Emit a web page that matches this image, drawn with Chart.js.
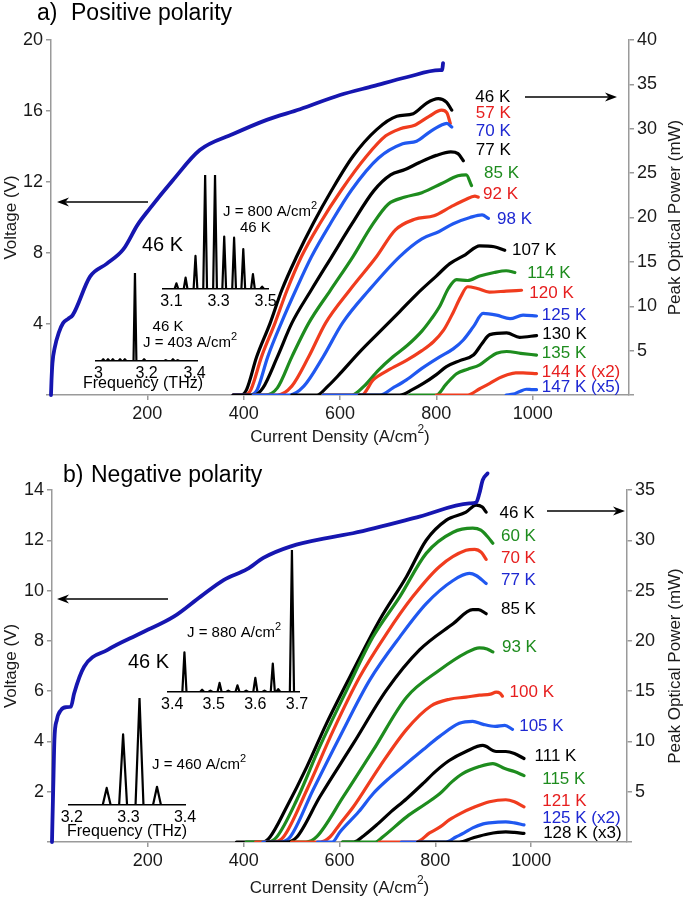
<!DOCTYPE html>
<html><head><meta charset="utf-8">
<script src="https://cdn.jsdelivr.net/npm/chart.js@4.4.0/dist/chart.umd.min.js"></script>
<style>
body{margin:0;background:#fff;width:685px;height:901px;position:relative;overflow:hidden}
canvas{position:absolute}
</style></head><body>
<canvas id="ca" width="685" height="450" style="left:0;top:0"></canvas>
<canvas id="cb" width="685" height="451" style="left:0;top:450px"></canvas>
<canvas id="ia1"></canvas><canvas id="ia2"></canvas>
<canvas id="ib1"></canvas><canvas id="ib2"></canvas>
<script>
// ---- panel a : positive polarity ----
const voltAJ=[0,1,3,8,16,25,36,45,81,116,150,180,205,253,309,378,448,517,600,669,738,807,812,814]
const voltAV=[0,0.8,1.8,2.7,3.5,4.05,4.3,4.5,6.67,7.4,8.2,9.6,10.5,12.1,13.8,14.7,15.5,16.1,16.9,17.4,17.9,18.3,18.3,18.7]
const tempsA=['46 K','57 K','70 K','77 K','85 K','92 K','98 K','107 K','114 K','120 K','125 K','130 K','135 K','144 K (x2)','147 K (x5)']
const a46=[[378,0],[395,0],[406,0.6],[427,4.3],[455,8.1],[479,11.8],[510,15.6],[544,19.3],[583,23.1],[627,26.9],[676,29.9],[718,31.4],[752,31.7],[780,32.9],[804,33.4],[821,33.0],[832,32.1]]
const a57=[[378,0],[402,0],[415,0.6],[437,4.3],[465,8.1],[490,11.8],[520,15.6],[558,19.3],[603,23.1],[655,26.9],[695,29.2],[725,30.0],[755,30.4],[785,31.4],[811,32.1],[822,31.8],[829,30.6]]
const a70=[[378,0],[413,0],[428,0.6],[450,4.3],[478,8.1],[508,11.8],[541,15.6],[580,19.3],[624,23.1],[680,26.7],[730,28.3],[759,28.6],[785,29.6],[810,30.4],[822,30.6],[832,30.2]]
const a77=[[378,0],[422,0],[440,0.8],[470,4.3],[500,8.1],[540,11.8],[583,15.6],[625,19.3],[670,23.0],[705,24.8],[735,25.4],[765,26.2],[800,27.0],[830,27.4],[845,27.2],[856,26.4]]
const a85=[[420,0],[445,0],[470,0.8],[500,4.3],[535,8.1],[580,11.8],[627,15.6],[665,19.0],[700,21.5],[735,22.3],[770,22.8],[810,23.8],[845,24.7],[862,24.8],[873,23.6]]
const a92=[[420,0],[470,0],[500,1.0],[535,4.3],[570,8.1],[620,11.8],[676,15.6],[715,18.6],[755,19.8],[795,20.2],[830,21.2],[860,22.0],[880,22.4],[887,22.3]]
const a98=[[420,0],[495,0],[525,1.0],[565,4.3],[605,8.1],[660,11.8],[724,15.6],[770,17.6],[805,18.4],[835,19.3],[870,20.0],[895,20.3],[908,19.9]]
const a107=[[500,0],[552,0],[575,1.0],[600,2.4],[640,4.8],[680,7.0],[724,9.4],[760,11.4],[800,13.4],[828,14.8],[860,15.8],[890,16.8],[920,16.7],[942,16.3]]
const a114=[[565,0],[625,0],[650,1.0],[680,2.8],[710,4.3],[740,5.6],[770,7.2],[790,8.6],[807,10.0],[825,12.0],[842,13.0],[865,12.9],[890,13.4],[920,13.8],[945,14.0],[963,13.8]]
const a120=[[565,0],[645,0],[669,1.7],[700,2.8],[738,3.9],[770,5.0],[794,6.0],[815,7.3],[835,9.3],[850,11.0],[865,12.2],[885,12.0],[910,11.6],[945,11.7],[977,11.8]]
const a125=[[565,0],[683,0],[710,0.8],[738,1.7],[770,3.0],[807,4.3],[835,5.2],[856,6.2],[877,7.7],[897,9.2],[925,9.0],[953,8.6],[980,9.0],[1008,8.9]]
const a130=[[640,0],[724,0],[750,0.6],[773,1.3],[800,2.3],[821,3.2],[850,3.9],[877,4.5],[895,5.8],[911,6.8],[946,7.0],[973,6.5],[1008,6.7]]
const a135=[[745,0],[800,0],[820,1.2],[842,2.4],[865,2.9],[890,3.4],[910,4.2],[925,4.7],[946,4.9],[975,4.7],[1008,4.5]]
const a144=[[800,0],[865,0],[890,0.7],[911,1.3],[930,1.9],[946,2.25],[965,2.5],[980,2.5],[1008,2.4]]
const a147=[[945,0],[960,0.1],[973,0.4],[987,0.65],[1000,0.6],[1008,0.6]]
// label anchor (current density, power) for each temperature
const labAJ=[881,882,882,882,899,897,926,957,989,993,1019,1020,1019,1019,1019]
const labAP=[33.5,31.7,29.7,27.6,25.0,22.6,19.8,16.3,13.7,11.5,9.0,6.8,4.7,2.6,0.9]

// ---- panel b : negative polarity ----
const voltBJ=[0,1,3,5,10,19,29,39.5,46,67,116,185,254,310,358,407,441,497,587,628,767,871,885,892,899,909]
const voltBV=[0,0.9,2.5,4.06,4.85,5.25,5.36,5.38,5.9,6.97,7.64,8.3,8.96,9.76,10.42,10.85,11.3,11.75,12.14,12.28,12.94,13.47,13.5,13.87,14.4,14.66]
const tempsB=['46 K','60 K','70 K','77 K','85 K','93 K','100 K','105 K','111 K','115 K','121 K','125 K (x2)','128 K (x3)']
const b46=[[385,0],[440,0],[455,0.5],[490,3.5],[532,7.5],[573,11.8],[629,17.1],[684,22.1],[740,26.4],[781,30.0],[823,32.0],[864,32.8],[885,33.5],[898,33.3],[906,32.8]]
const b60=[[405,0],[450,0],[469,0.5],[511,4.2],[559,9.5],[615,15.1],[670,20.4],[726,24.4],[781,28.7],[837,30.8],[878,31.2],[895,31.0],[910,30.3],[920,29.7]]
const b70=[[425,0],[462,0],[483,0.5],[532,5.2],[587,11.1],[642,16.4],[698,20.7],[753,24.4],[809,27.4],[864,29.0],[882,29.1],[896,28.8],[906,28.1]]
const b77=[[440,0],[475,0],[497,0.5],[545,5.2],[601,10.5],[663,16.1],[726,20.4],[781,23.7],[837,26.0],[871,26.7],[885,26.5],[906,25.7]]
const b85=[[449,0],[490,0],[511,0.5],[559,4.5],[629,9.8],[698,15.1],[767,19.1],[837,21.7],[878,23.1],[890,23.1],[906,22.7]]
const b93=[[500,0],[530,0],[552,0.5],[608,4.5],[670,9.1],[740,14.4],[809,17.1],[864,18.8],[892,19.3],[908,19.2],[920,18.9]]
const b100=[[500,0],[560,0],[580,0.5],[601,1.8],[629,3.5],[684,7.5],[740,11.2],[790,13.5],[830,14.2],[864,14.4],[892,14.6],[915,14.7],[927,14.9],[935,14.8],[940,14.5]]
const b105=[[554,0],[585,0],[601,1.0],[640,3.0],[670,4.8],[705,6.4],[740,7.8],[775,9.2],[809,10.5],[850,11.8],[878,12.0],[900,11.7],[925,11.5],[945,11.6],[961,11.2]]
const b111=[[606,0],[630,0],[650,0.6],[680,1.8],[705,2.9],[740,4.3],[774,5.8],[800,7.0],[829,8.1],[864,9.0],[899,9.6],[927,9.0],[947,9.0],[965,8.8],[985,8.3]]
const b115=[[606,0],[675,0],[690,0.5],[740,2.5],[780,3.8],[809,4.8],[835,6.0],[857,6.8],[892,7.5],[920,7.8],[945,7.3],[965,7.0],[985,6.6]]
const b121=[[683,0],[760,0],[788,0.9],[810,1.5],[829,2.2],[855,2.9],[878,3.4],[913,4.0],[947,4.2],[965,4.0],[985,3.5]]
const b125=[[729,0],[822,0],[843,0.5],[860,0.9],[878,1.4],[900,1.8],[913,1.9],[947,2.0],[965,1.9],[985,1.7]]
const b128=[[763,0],[850,0],[878,0.4],[910,0.8],[947,1.0],[965,0.95],[985,0.85]]
const labBJ=[934,937,937,937,937,939,955,975,1007,1023,1023,1023,1025]
const labBP=[32.7,30.4,28.2,26.0,23.1,19.4,14.9,11.5,8.5,6.2,4.0,2.4,0.9]

// ---- spectra insets (frequency THz, normalised amplitude) ----
const specA800F=[3.121,3.160,3.202,3.243,3.285,3.324,3.366,3.405,3.446,3.485]
const specA800A=[0.05,0.10,0.29,1.0,1.0,0.46,0.45,0.35,0.13,0.02]
const specA403F=[3.02,3.04,3.06,3.09,3.11,3.152,3.19,3.28,3.31,3.33]
const specA403A=[0.02,0.02,0.02,0.02,0.02,1.0,0.02,0.01,0.02,0.01]
const specB880F=[3.4295,3.472,3.492,3.514,3.535,3.557,3.578,3.600,3.622,3.642,3.655,3.688]
const specB880A=[0.28,0.016,0.01,0.064,0.01,0.047,0.01,0.099,0.01,0.2,0.02,1.0]
const specB460F=[3.2616,3.2906,3.3196,3.3505]
const specB460A=[0.16,0.66,1.0,0.17]

const FONT='"Liberation Sans", Arial, sans-serif'
Chart.defaults.font.family=FONT
Chart.defaults.color='#1a1a1a'

const BK='#000000', RD='#f03c1e', BL='#2058f0', GR='#1e8c1e', VCOL='#1616b0'
const LBK='#000000', LRD='#e61e1e', LBL='#1e28d2', LGR='#1e8c1e'
const colsA=[BK,RD,BL,BK,GR,RD,BL,BK,GR,RD,BL,BK,GR,RD,BL]
const labColA=[LBK,LRD,LBL,LBK,LGR,LRD,LBL,LBK,LGR,LRD,LBL,LBK,LGR,LRD,LBL]
const colsB=[BK,GR,RD,BL,BK,GR,RD,BL,BK,GR,RD,BL,BK]
const labColB=[LBK,LGR,LRD,LBL,LBK,LGR,LRD,LBL,LBK,LGR,LRD,LBL,LBK]

function supText(ctx,str,x,y,size,align){
  // '^' marks the next character as superscript
  const parts=[]
  let buf=''
  for(let i=0;i<str.length;i++){
    if(str[i]==='^'){ if(buf) parts.push([buf,false]); buf=''; parts.push([str[i+1],true]); i++ }
    else buf+=str[i]
  }
  if(buf) parts.push([buf,false])
  let w=0
  parts.forEach(([t,s])=>{ ctx.font=(s?Math.round(size*0.72):size)+'px '+FONT; w+=ctx.measureText(t).width })
  let cx=align==='center'?x-w/2:(align==='right'?x-w:x)
  ctx.textAlign='left'
  parts.forEach(([t,s])=>{
    ctx.font=(s?Math.round(size*0.72):size)+'px '+FONT
    ctx.fillText(t,cx,s?y-size*0.42:y)
    cx+=ctx.measureText(t).width
  })
}

function arrow(ctx,x1,y1,x2,y2){
  const ang=Math.atan2(y2-y1,x2-x1), L=12, H=4.5
  ctx.beginPath(); ctx.moveTo(x1,y1); ctx.lineTo(x2-L*0.7*Math.cos(ang),y2-L*0.7*Math.sin(ang)); ctx.stroke()
  ctx.beginPath(); ctx.moveTo(x2,y2)
  ctx.lineTo(x2-L*Math.cos(ang)+H*Math.sin(ang),y2-L*Math.sin(ang)-H*Math.cos(ang))
  ctx.lineTo(x2-L*0.7*Math.cos(ang),y2-L*0.7*Math.sin(ang))
  ctx.lineTo(x2-L*Math.cos(ang)-H*Math.sin(ang),y2-L*Math.sin(ang)+H*Math.cos(ang))
  ctx.closePath(); ctx.fill()
}

const decor={
  id:'decor',
  afterDraw(chart,args,o){
    const ctx=chart.ctx, a=chart.chartArea, sx=chart.scales.x, sy=chart.scales.y1
    ctx.save()
    ctx.fillStyle='#000'; ctx.strokeStyle='#000'; ctx.lineWidth=1.6
    // panel title
    ctx.textBaseline='alphabetic'; ctx.textAlign='left'
    ctx.font='23px '+FONT
    ctx.fillText(o.tag,o.tagX,o.titleY)
    ctx.fillText(o.title,o.titleX,o.titleY)
    ctx.textBaseline='middle'
    // axis titles
    ctx.fillStyle='#1a1a1a'
    supText(ctx,'Current Density (A/cm^2)',(a.left+a.right)/2,o.xTitleY,17,'center')
    const my=(a.top+a.bottom)/2
    ctx.save(); ctx.translate(11,my); ctx.rotate(-Math.PI/2)
    ctx.font='17px '+FONT; ctx.textAlign='center'; ctx.fillText('Voltage (V)',0,0); ctx.restore()
    ctx.save(); ctx.translate(675,my); ctx.rotate(-Math.PI/2)
    ctx.font='17px '+FONT; ctx.textAlign='center'; ctx.fillText('Peak Optical Power (mW)',0,0); ctx.restore()
    // temperature labels
    o.temps.forEach((t,i)=>{
      ctx.fillStyle=o.labCols[i]; ctx.font='17px '+FONT; ctx.textAlign='left'
      ctx.fillText(t,sx.getPixelForValue(o.labJ[i]),sy.getPixelForValue(o.labP[i]))
    })
    // arrows
    ctx.fillStyle='#000'
    o.arrows.forEach(r=>arrow(ctx,r[0],r[1],r[2],r[3]))
    // inset texts
    o.texts.forEach(t=>{ ctx.fillStyle='#000'; supText(ctx,t.t,t.x,t.y,t.size,t.align||'left') })
    ctx.restore()
  }
}

function mainChart(id,c){
  const ds=[{data:c.vj.map((x,i)=>({x,y:c.vv[i]})),yAxisID:'y',borderColor:VCOL,borderWidth:3.8,order:-100,clip:false}]
  c.curves.forEach((cv,i)=>ds.push({data:cv.map(p=>({x:p[0],y:p[1]})),yAxisID:'y1',borderColor:c.cols[i],borderWidth:3.2,order:-i}))
  const grid={drawOnChartArea:false,tickLength:5,color:'#9a9a9a',lineWidth:1.5}
  const border={color:'#9a9a9a',width:1.5}
  const hide0=v=>(v===0?'':v)
  return new Chart(document.getElementById(id),{
    type:'line',
    data:{datasets:ds},
    options:{
      responsive:false,animation:false,devicePixelRatio:1,
      layout:{padding:{top:40,left:0,right:0,bottom:0}},
      elements:{point:{radius:0},line:{cubicInterpolationMode:'monotone',borderCapStyle:'round',borderJoinStyle:'round'}},
      plugins:{legend:{display:false},tooltip:{enabled:false},decor:c.decor},
      scales:{
        x:{type:'linear',min:0,max:1200,
          ticks:{stepSize:200,font:{size:18},padding:3,maxRotation:0,callback:v=>(v===0||v===1200?'':v)},
          grid:{...grid,color:ctx=>(ctx.tick&&(ctx.tick.value===0||ctx.tick.value===1200)?'rgba(0,0,0,0)':'#9a9a9a')},border,
          afterFit:s=>{s.height=c.xh;s.paddingLeft=0;s.paddingRight=0}},
        y:{position:'left',min:0,max:c.vmax,ticks:{stepSize:c.vstep,font:{size:18},padding:3,callback:hide0},grid,border,
          afterFit:s=>{s.width=c.lw;s.paddingTop=0;s.paddingBottom=0}},
        y1:{position:'right',min:0,max:c.pmax,ticks:{stepSize:5,font:{size:18},padding:3,callback:hide0},grid,border,
          afterFit:s=>{s.width=c.rw;s.paddingTop=0;s.paddingBottom=0}}
      }
    },
    plugins:[decor]
  })
}

function spectrum(freq,amp,w,lo,hi){
  const pts=[{x:lo,y:0}]
  freq.forEach((f,i)=>{ pts.push({x:f-w,y:0},{x:f,y:amp[i]},{x:f+w,y:0}) })
  pts.push({x:hi,y:0})
  return pts
}

function inset(id,s){
  const padL=16,padR=16,padT=4,axH=24
  const el=document.getElementById(id)
  const L=Math.round(s.left), R=Math.round(s.right), T=Math.round(s.top), B=Math.round(s.bottom)
  el.width=R-L+padL+padR; el.height=B-T+padT+axH
  el.style.left=(L-padL)+'px'; el.style.top=(T-padT)+'px'
  new Chart(el,{
    type:'line',
    data:{datasets:[{data:spectrum(s.f,s.a,s.w,s.lo,s.hi),borderColor:'#000',borderWidth:2.2,tension:0,pointRadius:0,borderJoinStyle:'round'}]},
    options:{
      responsive:false,animation:false,devicePixelRatio:1,
      layout:{padding:{left:padL,right:padR,top:padT,bottom:0}},
      plugins:{legend:{display:false},tooltip:{enabled:false}},
      scales:{
        x:{type:'linear',min:s.lo,max:s.hi,
          afterBuildTicks:sc=>{sc.ticks=s.ticks.map(v=>({value:v}))},
          ticks:{font:{size:16},color:'#000',padding:-5,maxRotation:0,autoSkip:false,callback:v=>String(v)},
          grid:{display:false},border:{color:'#000',width:1.5},
          afterFit:sc=>{sc.height=axH;sc.paddingLeft=0;sc.paddingRight=0}},
        y:{display:false,min:0,max:1}
      }
    }
  })
}

mainChart('ca',{
  vj:voltAJ,vv:voltAV,
  curves:[a46,a57,a70,a77,a85,a92,a98,a107,a114,a120,a125,a130,a135,a144,a147],
  cols:colsA,vmax:20,vstep:4,pmax:40,xh:55,lw:51,rw:56,
  decor:{tag:'a)',tagX:37,title:'Positive polarity',titleX:71,titleY:20,xTitleY:437,
    temps:tempsA,labCols:labColA,labJ:labAJ,labP:labAP,
    arrows:[[148,202,57,202],[525,97,617,97]],
    texts:[
      {t:'46 K',x:142,y:245,size:20},
      {t:'J = 800 A/cm^2',x:223,y:212,size:15},
      {t:'46 K',x:240,y:228,size:15},
      {t:'46 K',x:168,y:327,size:15,align:'center'},
      {t:'J = 403 A/cm^2',x:143,y:343,size:15},
      {t:'Frequency (THz)',x:143,y:384,size:16,align:'center'}
    ]}
})

mainChart('cb',{
  vj:voltBJ,vv:voltBV,
  curves:[b46,b60,b70,b77,b85,b93,b100,b105,b111,b115,b121,b125,b128],
  cols:colsB,vmax:14,vstep:2,pmax:35,xh:59,lw:52,rw:58,
  decor:{tag:'b)',tagX:63,title:'Negative polarity',titleX:91,titleY:32,xTitleY:438,
    temps:tempsB,labCols:labColB,labJ:labBJ,labP:labBP,
    arrows:[[168,149,57,149],[547,61,625,61]],
    texts:[
      {t:'J = 880 A/cm^2',x:187,y:183,size:15},
      {t:'46 K',x:128,y:212,size:20},
      {t:'J = 460 A/cm^2',x:152,y:315,size:15},
      {t:'Frequency (THz)',x:127,y:382,size:16,align:'center'}
    ]}
})

inset('ia1',{left:163,right:268,top:175,bottom:289,lo:3.064,hi:3.51,ticks:[3.1,3.3,3.5],f:specA800F,a:specA800A,w:0.008})
inset('ia2',{left:96,right:197,top:273,bottom:361,lo:2.99,hi:3.41,ticks:[3,3.2,3.4],f:specA403F,a:specA403A,w:0.006})
inset('ib1',{left:168,right:299,top:550,bottom:692,lo:3.39,hi:3.705,ticks:[3.4,3.5,3.6,3.7],f:specB880F,a:specB880A,w:0.005})
inset('ib2',{left:69,right:185,top:698,bottom:805,lo:3.195,hi:3.40,ticks:[3.2,3.3,3.4],f:specB460F,a:specB460A,w:0.007})
</script>
</body></html>
